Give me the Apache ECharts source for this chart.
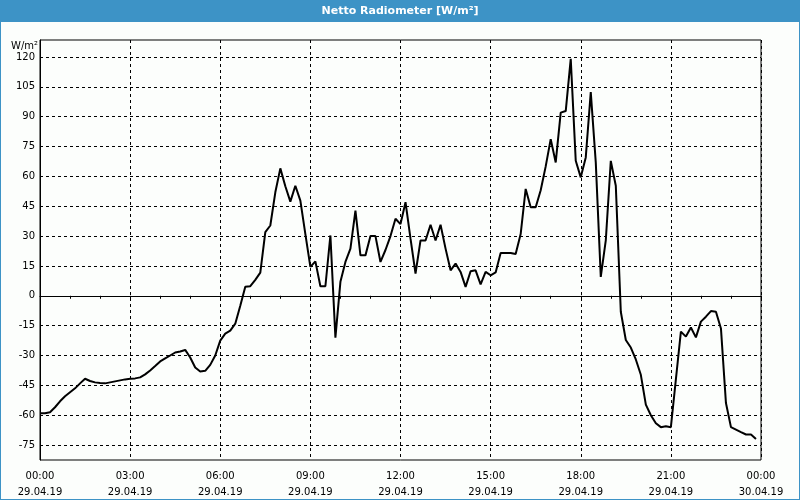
<!DOCTYPE html>
<html>
<head>
<meta charset="utf-8">
<script src="https://cdn.jsdelivr.net/npm/echarts@6/dist/echarts.min.js"></script>
<style>
html,body{margin:0;padding:0;background:#fcfefc;}
#c{width:800px;height:500px;}
</style>
</head>
<body>
<div id="c"></div>
<script>
// time of day in minutes since 29.04.19 00:00
var minutes = [0,10,20,30,40,50,60,70,80,90,100,110,120,130,140,150,160,170,180,190,
  200,210,220,230,240,250,260,270,280,290,300,310,320,330,340,350,360,370,380,390,
  400,410,420,430,440,450,460,470,480,490,500,510,520,530,540,550,560,570,580,590,
  600,610,620,630,640,650,660,670,680,690,700,710,720,730,740,750,760,770,780,790,
  800,810,820,830,840,850,860,870,880,890,900,910,920,930,940,950,960,970,980,990,
  1000,1010,1020,1030,1040,1050,1060,1070,1080,1090,1100,1110,1120,1130,1140,1150,1160,1170,1180,1190,
  1200,1210,1220,1230,1240,1250,1260,1270,1280,1290,1300,1310,1320,1330,1340,1350,1360,1370,1380,1390,
  1400,1410,1420,1430];
var radiation = [-59,-59,-58.5,-56,-53,-50.5,-48.5,-46.5,-44,-41.7,-42.8,-43.5,-43.8,-44,-43.5,-43,-42.5,-42,-41.7,-41.5,
  -41,-39.5,-37.5,-35.3,-33,-31.5,-30,-28.5,-28,-27.2,-31,-36,-38,-37.7,-34.7,-30,-22.5,-19,-17.5,-14,
  -5,4.5,4.8,8,11.6,32,35.3,52,64,55,47.3,55.3,47.8,31,14.5,17.3,4.8,4.8,30.3,-21,
  7,17,23.7,42.8,20.3,20.3,30,30,17,23,30,38.7,36,47,28.7,11.2,27.8,27.8,35.7,27.8,
  35.7,23.7,12.8,16.2,12,4.5,12.3,12.8,5.7,12,10.3,11.7,21.5,21.5,21.5,21,31,53.7,44.5,44.5,
  53,65,78.7,67,92,92.8,119,67.8,59.5,69.5,102.3,67,9.5,27.8,67.8,55.3,-8,-22.2,-26,-32,
  -39.7,-54.7,-60,-64,-66,-65.5,-66,-42,-18,-20.5,-15.9,-20.9,-13,-10.5,-7.7,-8,-16.4,-53.9,-66,-67.2,
  -68.5,-69.7,-69.7,-71.9];
var yTicks = [-75,-60,-45,-30,-15,0,15,30,45,60,75,90,105,120];
var chartTitle = 'Netto Radiometer [W/m²]';
var yUnit = 'W/m²';

var seriesData = minutes.map(function(m, i){ return [m, radiation[i]]; });
function pad(n){ return (n < 10 ? '0' : '') + n; }

var chart = echarts.init(document.getElementById('c'), null, {renderer:'canvas'});
var FONT = 'DejaVu Sans';
chart.setOption({
  backgroundColor: '#fcfefc',
  animation: false,
  textStyle: {fontFamily: FONT},
  graphic: [
    {type:'rect', shape:{x:0,y:0,width:800,height:22}, style:{fill:'#3d93c6'}, z:10},
    {type:'rect', shape:{x:0,y:0,width:1,height:500}, style:{fill:'#3d93c6'}, z:10},
    {type:'rect', shape:{x:799,y:0,width:1,height:500}, style:{fill:'#3d93c6'}, z:10},
    {type:'rect', shape:{x:0,y:499,width:800,height:1}, style:{fill:'#3d93c6'}, z:10},
    {type:'text', x:400, y:11, z:11, style:{text:chartTitle, fill:'#ffffff', font:'bold 11px "DejaVu Sans"', align:'center', verticalAlign:'middle'}},
    {type:'text', x:38, y:46, z:11, style:{text:yUnit, fill:'#000000', font:'10px "DejaVu Sans"', align:'right', verticalAlign:'middle'}}
  ],
  grid: {left:40, right:39, top:40, bottom:39, show:true, borderColor:'#000', borderWidth:1, backgroundColor:'transparent'},
  xAxis: {
    type:'value', min:0, max:1440, interval:180,
    axisLine:{show:true, lineStyle:{color:'#000', width:1}},
    axisTick:{show:true, length:5, lineStyle:{color:'#000'}},
    minorTick:{show:true, splitNumber:3, length:3, lineStyle:{color:'#000'}},
    splitLine:{show:true, lineStyle:{color:'#000', type:[3,3], width:1}},
    axisLabel:{
      color:'#000', fontSize:10, fontFamily:FONT, margin:8, lineHeight:16,
      formatter:function(v){
        var d = v >= 1440 ? '30.04.19' : '29.04.19';
        var mm = v % 1440;
        return pad(Math.floor(mm/60)) + ':' + pad(mm%60) + '\n' + d;
      }
    }
  },
  yAxis: {
    type:'value', min:-82.5, max:128.5,
    axisLine:{show:true, lineStyle:{color:'#000', width:1}},
    axisTick:{show:false, customValues:yTicks},
    splitLine:{show:true, lineStyle:{color:'#000', type:[3,3], width:1}},
    axisLabel:{color:'#000', fontSize:10, fontFamily:FONT, margin:5, customValues:yTicks}
  },
  series: [{
    type:'line', data:seriesData, showSymbol:false, symbol:'none',
    lineStyle:{color:'#000', width:2}, clip:true, z:5
  }]
});
</script>
</body>
</html>
